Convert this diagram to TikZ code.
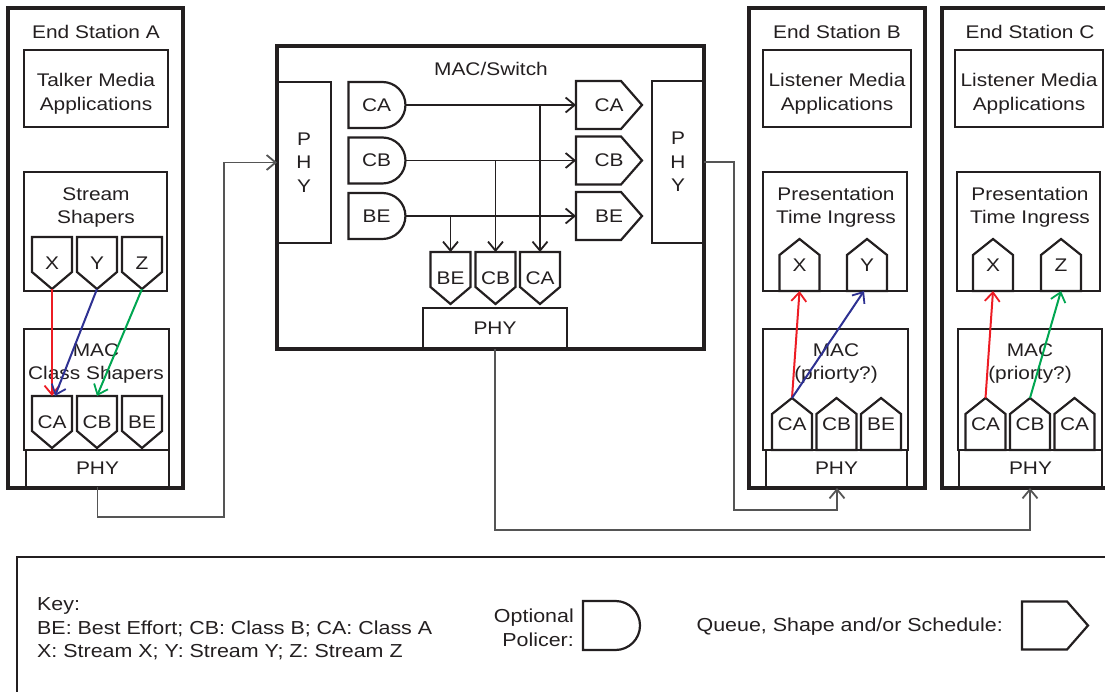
\documentclass[tikz,border=0pt]{standalone}
\usepackage{fontspec}
\setmainfont{Liberation Sans}[FakeStretch=1.14]
\usetikzlibrary{arrows.meta,positioning,shapes.misc}
\definecolor{ink}{RGB}{35,31,32}
\definecolor{wire}{RGB}{85,85,85}
\definecolor{redc}{RGB}{237,28,36}
\definecolor{bluec}{RGB}{46,49,146}
\definecolor{greenc}{RGB}{0,166,81}
\tikzset{
  >={Straight Barb[length=9pt,width=15pt,line width=1.8pt]},
  station/.style={draw=ink,line width=4pt,inner sep=0pt,outer sep=0pt,anchor=north west},
  box/.style={draw=ink,line width=2.4pt,inner sep=0pt,outer sep=0pt,anchor=north west,align=center,text=ink},
  txt/.style={text=ink,align=center,inner sep=0pt},
  keytxt/.style={txt,font=\fontsize{18.8}{23.5}\selectfont},
  qtext/.style={inner sep=0pt,outer sep=0pt,minimum width=40pt,minimum height=52pt,text=ink},
  qline/.style={draw=ink,line width=2.2pt,line join=miter},
  pol/.style={rounded rectangle,rounded rectangle left arc=none,draw=ink,line width=2.2pt,
    inner sep=0pt,outer sep=0pt,minimum width=57pt,minimum height=46pt,text=ink},
  arr/.style={->,draw=ink,line width=1.1pt},
  conn/.style={->,draw=wire,line width=1.1pt},
  flow/.style={->,draw=#1,line width=2pt},
  % queue pentagons
  pics/qdown/.style={code={
    \node[qtext] (-q) {#1};
    \draw[qline] (-q.north west) -- (-q.north east) -- ([yshift=17pt]-q.south east)
      -- (-q.south) -- ([yshift=17pt]-q.south west) -- cycle;
  }},
  pics/qup/.style={code={
    \node[qtext] (-q) {#1};
    \draw[qline] (-q.south west) -- (-q.south east) -- ([yshift=-16pt]-q.north east)
      -- (-q.north) -- ([yshift=-16pt]-q.north west) -- cycle;
  }},
  pics/qright/.style={code={
    \node[qtext,minimum width=66pt,minimum height=48pt] (-q) {#1};
    \draw[qline] (-q.north west) -- ([xshift=-21pt]-q.north east) -- (-q.east)
      -- ([xshift=-21pt]-q.south east) -- (-q.south west) -- cycle;
  }},
}
\begin{document}
\begin{tikzpicture}[x=1pt,y=-1pt,font=\fontsize{18.3}{23.5}\selectfont]
  \useasboundingbox (0,0) rectangle (1105,692);
  \clip (0,0) rectangle (1105,692);
  % End Station A (talker)
  \node[station,minimum width=175pt,minimum height=480pt] (sA) at (8,8) {};
  \node[txt] (sAt) at (96,32) {End Station A};
  \node[box,minimum width=144pt,minimum height=77pt] (appA) at (24,50) {};
  \node[txt] (appAt) at (96,94) {Talker Media\\Applications};
  \node[box,minimum width=143pt,minimum height=119pt] (ssA) at (24,172) {};
  \node[txt] (ssAt) at (96,207.5) {Stream\\Shapers};
  \pic (xA) at (52,263) {qdown=X};
  \pic (yA) at (97,263) {qdown=Y};
  \pic (zA) at (142,263) {qdown=Z};
  \node[box,minimum width=145pt,minimum height=121pt] (mA) at (24,329) {};
  \node[txt] (mAt) at (96,363.5) {MAC\\Class Shapers};
  \pic (caA) at (52,422) {qdown=CA};
  \pic (cbA) at (97,422) {qdown=CB};
  \pic (beA) at (142,422) {qdown=BE};
  \node[box,minimum width=143pt,minimum height=37pt] (pA) at (26,450) {PHY};
  \draw[flow=redc] (xA-q.south) -- (caA-q.north);
  \draw[flow=bluec] (yA-q.south) -- ([xshift=3pt]caA-q.north);
  \draw[flow=greenc] (zA-q.south) -- (cbA-q.north);

  % MAC/Switch
  \node[station,minimum width=427pt,minimum height=303pt] (sw) at (277,46) {};
  \node[txt] (swt) at (491,69) {MAC/Switch};
  \node[box,minimum width=54pt,minimum height=161pt] (phyL) at (277,82) {P\\H\\Y};
  \node[box,minimum width=52pt,minimum height=162pt] (phyR) at (652,81) {P\\H\\Y};
  \node[pol] (pCA) at (376.5,105) {CA};
  \node[pol] (pCB) at (376.5,160.5) {CB};
  \node[pol] (pBE) at (376.5,216) {BE};
  \pic (qCA) at (609,105) {qright=CA};
  \pic (qCB) at (609,160.5) {qright=CB};
  \pic (qBE) at (609,216) {qright=BE};
  \pic (dBE) at (450.5,278) {qdown=BE};
  \pic (dCB) at (495.5,278) {qdown=CB};
  \pic (dCA) at (540,278) {qdown=CA};
  \node[box,minimum width=144pt,minimum height=41pt] (phyB) at (423,308) {PHY};
  \foreach \c in {CA,CB,BE} \draw[arr] (p\c.east) -- (q\c-q.west);
  \foreach \c in {CA,CB,BE} \draw[arr] (d\c-q.north |- p\c.east) -- (d\c-q.north);

  % End Station B (listener)
  \node[station,minimum width=176pt,minimum height=480pt] (sB) at (749,8) {};
  \node[txt] (sBt) at (837,32) {End Station B};
  \node[box,minimum width=148pt,minimum height=77pt] (appB) at (763,50) {};
  \node[txt] (appBt) at (837,94) {Listener Media\\Applications};
  \node[box,minimum width=144pt,minimum height=119pt] (ptB) at (763,172) {};
  \node[txt] (ptBt) at (836,207.5) {Presentation\\Time Ingress};
  \pic (xB) at (799.5,265) {qup=X};
  \pic (yB) at (867,265) {qup=Y};
  \node[box,minimum width=145pt,minimum height=121pt] (mB) at (763,329) {};
  \node[txt] (mBt) at (836,363.5) {MAC\\(priorty?)};
  \pic (caB) at (792,424) {qup=CA};
  \pic (cbB) at (836.5,424) {qup=CB};
  \pic (beB) at (881,424) {qup=BE};
  \node[box,minimum width=141pt,minimum height=37pt] (pB) at (766,450) {PHY};
  \draw[flow=redc] (caB-q.north) -- (xB-q.south);
  \draw[flow=bluec] (caB-q.north) -- ([xshift=-3pt]yB-q.south);

  % End Station C (listener)
  \node[station,minimum width=176pt,minimum height=480pt] (sC) at (942,8) {};
  \node[txt] (sCt) at (1030,32) {End Station C};
  \node[box,minimum width=148pt,minimum height=77pt] (appC) at (955,50) {};
  \node[txt] (appCt) at (1029,94) {Listener Media\\Applications};
  \node[box,minimum width=143pt,minimum height=119pt] (ptC) at (957,172) {};
  \node[txt] (ptCt) at (1030,207.5) {Presentation\\Time Ingress};
  \pic (xC) at (993,265) {qup=X};
  \pic (zC) at (1061,265) {qup=Z};
  \node[box,minimum width=144pt,minimum height=121pt] (mC) at (958,329) {};
  \node[txt] (mCt) at (1030,363.5) {MAC\\(priorty?)};
  \pic (caC) at (985.5,424) {qup=CA};
  \pic (cbC) at (1030,424) {qup=CB};
  \pic (ca2C) at (1074.5,424) {qup=CA};
  \node[box,minimum width=143pt,minimum height=37pt] (pC) at (959,450) {PHY};
  \draw[flow=redc] (caC-q.north) -- (xC-q.south);
  \draw[flow=greenc] (cbC-q.north) -- (zC-q.south);

  % links
  \draw[conn] (pA.south) -- ++(0,30) -| ([xshift=-53pt]phyL.west) -- (phyL.west);
  \draw[conn] (phyR.east) -- ++(30,0) |- (sB.south |- 0,510) -- (sB.south);
  \draw[conn] (phyB.south) |- (sC.south |- 0,530) -- (sC.south);

  % key
  \node[box,minimum width=1110pt,minimum height=160pt] (key) at (17,557) {};
  \node[keytxt,align=left,anchor=west] (keyt) at (37,629) {Key:\\BE: Best Effort; CB: Class B; CA: Class A\\X: Stream X; Y: Stream Y; Z: Stream Z};
  \node[keytxt,align=right,anchor=east] (kpolt) at (574,628) {Optional\\Policer:};
  \node[pol,minimum height=49pt] (kpol) at (611.5,625.5) {};
  \node[keytxt,anchor=east] (kqt) at (1003,627) {Queue, Shape and/or Schedule:};
  \pic (kq) at (1055,625.5) {qright=};
\end{tikzpicture}
\end{document}
